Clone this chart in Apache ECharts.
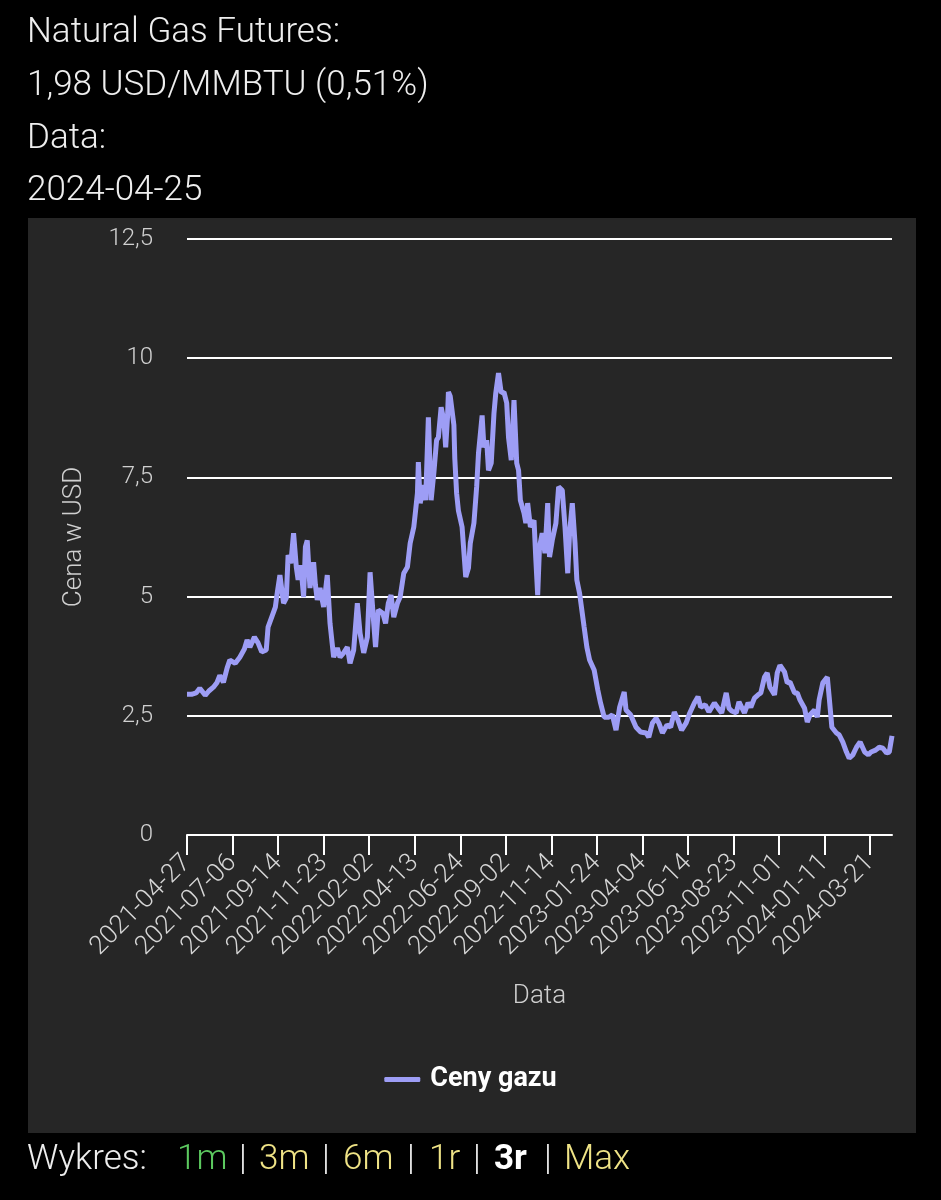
<!DOCTYPE html>
<html>
<head>
<meta charset="utf-8">
<script src="https://cdn.jsdelivr.net/npm/echarts@6/dist/echarts.min.js"></script>
<style>
html,body{margin:0;padding:0;background:#000;}
#chart{width:941px;height:1200px;}
</style>
</head>
<body>
<div id="chart"></div>
<script>
// ---- data ----
const startDate = '2021-04-27';
const endDate = '2024-04-25';
const closedDays = ['2021-12-24','2022-04-15','2022-05-30','2022-09-05','2022-12-26','2023-04-07','2023-12-25','2024-03-29'];

const yTicks = [0, 2.5, 5, 7.5, 10, 12.5];

// trading-day index (from startDate) of each sampled point
const sampleDay = [
  0,5,10,14,20,24,29,33,36,40,
  44,47,53,58,63,66,69,74,78,82,
  87,89,93,97,99,102,106,109,111,114,
  117,120,122,125,128,130,132,135,139,141,
  143,146,150,154,157,161,165,168,172,176,
  179,183,187,190,194,198,201,205,207,210,
  215,218,221,224,227,231,234,238,242,245,
  249,251,253,254,256,260,262,265,268,271,
  274,276,279,282,284,286,287,289,293,294,
  296,298,302,306,309,311,315,318,320,324,
  326,329,331,334,337,339,342,345,348,351,
  353,356,359,362,364,366,370,372,374,377,
  381,383,385,387,390,393,396,398,401,405,
  408,412,415,418,420,423,426,428,431,436,
  439,442,447,451,454,458,463,467,471,475,
  480,482,487,493,498,504,507,511,515,518,
  522,527,531,535,539,543,548,552,557,561,
  564,569,573,579,583,587,592,595,598,603,
  606,612,616,619,623,627,630,634,637,640,
  645,648,651,656,659,662,667,670,673,678,
  681,684,689,692,694,698,703,705,708,713,
  716,720,724,727,731,735,739,744,748,751,
  756,760,764,768,771,774
];
// price in USD/MMBTU at those days
const price = [
  2.95,2.95,2.98,3.08,2.93,3.02,3.1,3.2,3.35,3.2,
  3.5,3.67,3.6,3.73,3.9,4.09,3.94,4.15,4.03,3.84,
  3.88,4.36,4.57,4.78,5.07,5.45,4.86,4.97,5.87,5.7,
  6.33,5.62,5.35,5.66,4.99,6.04,6.18,5.18,5.72,5.24,
  4.93,5.18,4.78,5.45,4.44,3.73,3.92,3.73,3.82,3.94,
  3.6,3.88,4.86,4.23,3.82,4.15,5.51,4.44,3.94,4.72,
  4.65,4.44,4.86,5.03,4.57,4.86,4.99,5.49,5.62,6.12,
  6.46,6.81,7.17,7.82,6.96,7.34,7.02,8.76,7.02,7.59,
  8.28,8.34,8.97,8.7,8.13,8.76,9.29,9.2,8.6,7.9,
  7.17,6.8,6.46,5.41,5.6,6.12,6.54,7.3,8.0,8.8,
  8.13,8.28,7.65,7.8,8.84,9.27,9.69,9.27,9.29,9.06,
  8.34,7.86,9.12,7.8,7.65,7.02,6.75,6.54,6.96,6.46,
  6.6,5.77,5.03,6.04,6.33,5.91,6.96,5.83,6.18,6.54,
  7.3,7.23,6.46,5.49,6.33,6.96,6.12,5.35,5.07,4.36,
  3.94,3.67,3.46,3.04,2.77,2.47,2.47,2.52,2.2,2.68,
  3.0,2.62,2.52,2.26,2.16,2.14,2.05,2.35,2.45,2.35,
  2.14,2.31,2.26,2.58,2.41,2.2,2.35,2.56,2.77,2.9,
  2.68,2.73,2.58,2.77,2.66,2.56,2.98,2.66,2.6,2.56,
  2.79,2.56,2.77,2.68,2.87,2.94,2.98,3.31,3.4,3.1,
  2.94,3.4,3.56,3.42,3.19,3.21,2.98,2.98,2.83,2.66,
  2.37,2.52,2.62,2.47,2.83,3.19,3.31,2.9,2.26,2.14,
  2.1,1.95,1.74,1.61,1.68,1.84,1.95,1.74,1.68,1.74,
  1.78,1.84,1.82,1.72,1.74,2.08
];

const headerLines = ['Natural Gas Futures:', '1,98 USD/MMBTU (0,51%)', 'Data:', '2024-04-25'];
const seriesName = 'Ceny gazu';
const rangeLinks = ['1m', '3m', '6m', '1r', '3r', 'Max'];

// ---- build trading-day categories ----
function tradingDays(from, to, closed) {
  const out = [];
  const d = new Date(from + 'T00:00:00Z');
  const end = new Date(to + 'T00:00:00Z');
  while (d <= end) {
    const wd = d.getUTCDay();
    const s = d.toISOString().slice(0, 10);
    if (wd !== 0 && wd !== 6 && closed.indexOf(s) < 0) out.push(s);
    d.setUTCDate(d.getUTCDate() + 1);
  }
  return out;
}
const dates = tradingDays(startDate, endDate, closedDays);
const seriesData = sampleDay.map((k, i) => [dates[k], price[i]]);

// ---- styles ----
const FONT = 'Roboto, "Open Sans", sans-serif';
const LINE_COLOR = '#9d9df5';
const TEXT = '#eeeeee';
const GREEN = '#5cc95f';
const YELLOW = '#efe386';

const headerY = [33, 86, 139, 191];
const graphics = [
  { type: 'rect', z: -100, shape: { x: 28, y: 218, width: 888, height: 915 }, style: { fill: '#262626' } }
];
headerLines.forEach((t, i) => {
  graphics.push({ type: 'text', x: 27, y: headerY[i], style: { text: t, fill: TEXT, font: '300 35px ' + FONT, textAlign: 'left', textVerticalAlign: 'middle' } });
});

const footerY = 1160;
const footerParts = [
  { t: 'Wykres:', x: 27, c: TEXT, w: 300 },
  { t: rangeLinks[0], x: 177, c: GREEN, w: 300 },
  { t: '|', x: 239, c: TEXT, w: 300 },
  { t: rangeLinks[1], x: 259, c: YELLOW, w: 300 },
  { t: '|', x: 322, c: TEXT, w: 300 },
  { t: rangeLinks[2], x: 343, c: YELLOW, w: 300 },
  { t: '|', x: 407, c: TEXT, w: 300 },
  { t: rangeLinks[3], x: 429, c: YELLOW, w: 300 },
  { t: '|', x: 473, c: TEXT, w: 300 },
  { t: rangeLinks[4], x: 494, c: '#ffffff', w: 700 },
  { t: '|', x: 544, c: TEXT, w: 300 },
  { t: rangeLinks[5], x: 564, c: YELLOW, w: 300 }
];
footerParts.forEach(p => {
  graphics.push({ type: 'text', x: p.x, y: footerY, style: { text: p.t, fill: p.c, font: p.w + ' 35px ' + FONT, textAlign: 'left', textVerticalAlign: 'middle' } });
});

const chart = echarts.init(document.getElementById('chart'), null, { renderer: 'canvas', width: 941, height: 1200 });
chart.setOption({
  backgroundColor: '#000000',
  animation: false,
  graphic: { elements: graphics },
  grid: { left: 187, right: 49, top: 239, bottom: 365, containLabel: false },
  legend: {
    data: [seriesName],
    top: 1061,
    left: 'center',
    icon: 'roundRect',
    itemWidth: 36,
    itemHeight: 5,
    itemGap: 10,
    textStyle: { color: '#ffffff', fontSize: 27, fontWeight: 'bold', fontFamily: FONT, padding: [0, 0, 0, 5] }
  },
  xAxis: {
    type: 'category',
    data: dates,
    boundaryGap: false,
    name: 'Data',
    nameLocation: 'middle',
    nameGap: 148,
    nameTextStyle: { color: '#cfcfcf', fontSize: 26, fontWeight: 300, fontFamily: FONT },
    axisLine: { show: true, lineStyle: { color: '#ffffff', width: 2 } },
    axisTick: { show: true, interval: 49, length: 20, lineStyle: { color: '#ffffff', width: 2 } },
    axisLabel: { interval: 49, rotate: 45, margin: 24, color: '#d6d6d6', fontSize: 26, fontWeight: 300, fontFamily: FONT },
    splitLine: { show: false }
  },
  yAxis: {
    type: 'value',
    min: yTicks[0],
    max: yTicks[yTicks.length - 1],
    interval: yTicks[1] - yTicks[0],
    name: 'Cena w USD',
    nameLocation: 'middle',
    nameGap: 100,
    nameRotate: 90,
    nameTextStyle: { color: '#cfcfcf', fontSize: 26, fontWeight: 300, fontFamily: FONT },
    axisLine: { show: false },
    axisTick: { show: false },
    axisLabel: { margin: 34, color: '#d0d0d0', fontSize: 24, fontWeight: 300, fontFamily: FONT, formatter: v => String(v).replace('.', ',') },
    splitLine: { show: true, lineStyle: { color: '#ffffff', width: 2 } }
  },
  series: [{
    name: seriesName,
    type: 'line',
    data: seriesData,
    showSymbol: false,
    symbol: 'none',
    lineStyle: { color: LINE_COLOR, width: 5 },
    itemStyle: { color: LINE_COLOR },
    z: 5
  }]
});
</script>
</body>
</html>
